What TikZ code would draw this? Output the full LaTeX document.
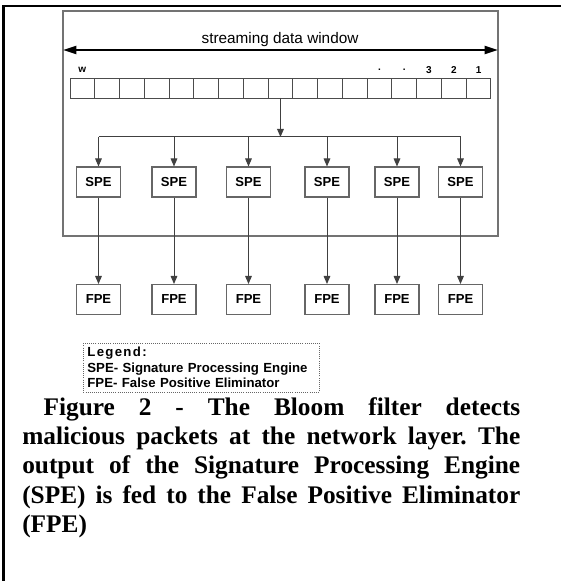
\documentclass[tikz,border=0pt]{standalone}
\usepackage{fontspec}
\setmainfont{Liberation Serif}
\setsansfont{Liberation Sans}
\usetikzlibrary{arrows.meta}

\tikzset{
  box/.style={draw=black!60, line width=0.8pt, minimum width=33pt, minimum height=22.5pt,
    inner sep=0pt, font=\sffamily\bfseries\fontsize{9.8}{11}\selectfont},
  cellbox/.style={draw=black!70, line width=0.7pt, minimum width=18.57pt, minimum height=15pt,
    inner sep=0pt, outer sep=0pt},
  numlabel/.style={inner sep=0pt, font=\sffamily\bfseries\fontsize{7.5}{8}\selectfont},
  wire/.style={draw=black!75, line width=0.75pt},
  tip/.style={-{Triangle[length=6pt,width=5pt]}},
  legendbox/.style={draw=black!60, densely dotted, line width=0.6pt, text width=171pt,
    align=left, inner xsep=3pt, inner ysep=3pt,
    font=\sffamily\bfseries\fontsize{9.9}{11.6}\selectfont},
  captext/.style={inner sep=0pt, text width=373.5pt, align=justify,
    font=\bfseries\fontsize{19}{22}\selectfont}
}

\begin{document}
\begin{tikzpicture}[x=0.75pt, y=-0.75pt]
\useasboundingbox (0,0) rectangle (561,581);
% page rule, top and left
\draw[line width=1.7pt] (3.5,581) -- (3.5,6) -- (561,6);
% window frame
\draw[draw=black!55, line width=0.8pt] (63,11) rectangle (498,236);
\node[font=\sffamily\fontsize{11.5}{13}\selectfont] (title) at (280,40) {streaming data window};
\coordinate (winL) at (63,50);
\coordinate (winR) at (498,50);
\draw[line width=1.5pt, {Triangle[length=10pt,width=6pt]}-{Triangle[length=10pt,width=6pt]}] (winL) -- (winR);
% data cells
\foreach \i in {1,...,17}
  \node[cellbox] (c\i) at ({70+24.76*(\i-0.5)},88) {};
\foreach \i/\t in {1/w,13/.,14/.,15/3,16/2,17/1}
  \node[numlabel] (n\i) at ([yshift=6pt]c\i.north) {\t};
% engines
\foreach \i/\x in {1/98.5,2/174,3/248.5,4/327,5/397,6/460.5} {
  \node[box] (s\i) at (\x,182) {SPE};
  \node[box] (f\i) at (\x,299.5) {FPE};
}
\coordinate (busM) at (c9.south |- 0,137);
\draw[wire] (s1.north |- busM) -- (s6.north |- busM);
\draw[wire,tip] (c9.south) -- (busM);
\foreach \i in {1,...,6} {
  \draw[wire,tip] (s\i.north |- busM) -- (s\i.north);
  \draw[wire,tip] (s\i) -- (f\i);
}
% legend
\node[legendbox, anchor=north west] (legend) at (83,343)
  {{\addfontfeature{LetterSpace=10}Legend:}\\
   SPE- Signature Processing Engine\\
   FPE- False Positive Eliminator};
% caption
\node[captext, anchor=north west] (caption) at (22,397)
  {\frenchspacing\hspace*{16pt}Figure 2 - The Bloom filter detects\linebreak
   malicious packets at the network layer. The\linebreak
   output of the Signature Processing Engine\linebreak
   (SPE) is fed to the False Positive Eliminator\linebreak
   (FPE)};
\end{tikzpicture}
\end{document}
